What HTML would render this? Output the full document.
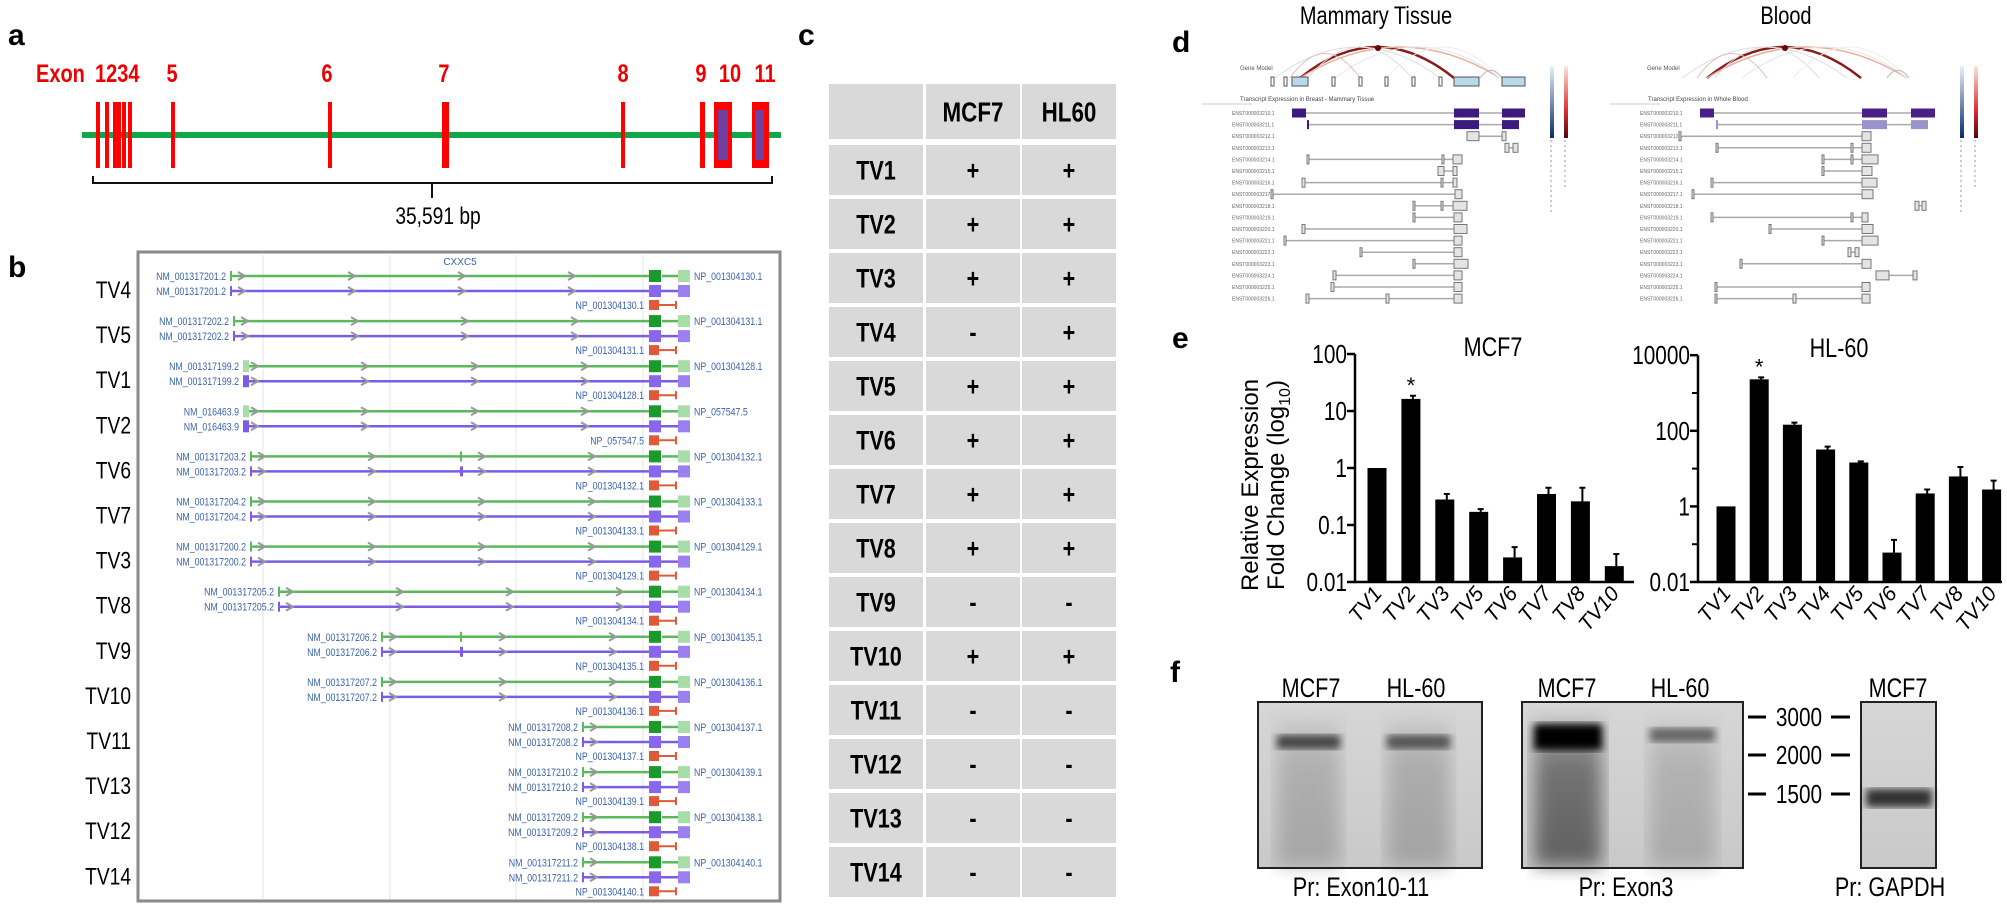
<!DOCTYPE html>
<html><head><meta charset="utf-8">
<style>
html,body{margin:0;padding:0;background:#fff;}
svg{display:block;}
.nar{font-family:"Liberation Sans",sans-serif;}
.sans{font-family:"Liberation Sans",sans-serif;}
</style></head>
<body>
<svg id="fig" width="2007" height="910" viewBox="0 0 2007 910" xmlns="http://www.w3.org/2000/svg">
<defs>
<filter id="blur3"><feGaussianBlur stdDeviation="4"/></filter>
<filter id="blur8"><feGaussianBlur stdDeviation="9"/></filter>
<linearGradient id="blotbg" x1="0" y1="0" x2="0" y2="1"><stop offset="0" stop-color="#d6d6d6"/><stop offset="1" stop-color="#c9c9c9"/></linearGradient>
<linearGradient id="laneg" x1="0" y1="0" x2="0" y2="1"><stop offset="0" stop-color="#bdbdbd"/><stop offset="0.3" stop-color="#9a9a9a"/><stop offset="1" stop-color="#8e8e8e"/></linearGradient>
<linearGradient id="laneg2" x1="0" y1="0" x2="0" y2="1"><stop offset="0" stop-color="#aaa"/><stop offset="0.3" stop-color="#6a6a6a"/><stop offset="1" stop-color="#555"/></linearGradient>
<linearGradient id="blueleg" x1="0" y1="0" x2="0" y2="1"><stop offset="0" stop-color="#e8f0fa"/><stop offset="1" stop-color="#0b2a6e"/></linearGradient>
<linearGradient id="redleg" x1="0" y1="0" x2="0" y2="1"><stop offset="0" stop-color="#fbe6dc"/><stop offset="0.6" stop-color="#d33"/><stop offset="1" stop-color="#5a0010"/></linearGradient>
</defs>

<!-- Panel a -->
<g>
<text x="8" y="45" class="sans" font-size="30" font-weight="bold">a</text>
<text x="36" y="82" class="nar" font-size="25" font-weight="bold" fill="#e00">Exon</text>
<text x="95" y="82" class="nar" font-size="25" font-weight="bold" fill="#e00">1234</text>
<text x="172" y="82" class="nar" font-size="25" font-weight="bold" fill="#e00" text-anchor="middle">5</text>
<text x="327" y="82" class="nar" font-size="25" font-weight="bold" fill="#e00" text-anchor="middle">6</text>
<text x="444" y="82" class="nar" font-size="25" font-weight="bold" fill="#e00" text-anchor="middle">7</text>
<text x="623" y="82" class="nar" font-size="25" font-weight="bold" fill="#e00" text-anchor="middle">8</text>
<text x="701" y="82" class="nar" font-size="25" font-weight="bold" fill="#e00" text-anchor="middle">9</text>
<text x="730" y="82" class="nar" font-size="25" font-weight="bold" fill="#e00" text-anchor="middle">10</text>
<text x="765" y="82" class="nar" font-size="25" font-weight="bold" fill="#e00" text-anchor="middle">11</text>
<rect x="82" y="132" width="699" height="6" fill="#12a84a"/>
<g id="exons"></g>
<path d="M93 176 V183 H772 V176 M432 183 V198" stroke="#111" stroke-width="2" fill="none"/>
<text x="438" y="224" class="nar" font-size="24" text-anchor="middle">35,591 bp</text>
</g>

<!-- Panel b -->
<g>
<text x="8" y="277" class="sans" font-size="30" font-weight="bold">b</text>
<rect x="138" y="252" width="642" height="649" fill="#fff" stroke="#8a8a8a" stroke-width="3"/>
<g id="gridb"></g>
<text x="460" y="265" class="sans" font-size="10" fill="#3a64b0" text-anchor="middle">CXXC5</text>
<g id="tracks"></g>
</g>

<!-- Panel c -->
<g>
<text x="798" y="45" class="sans" font-size="30" font-weight="bold">c</text>
<g id="table"></g>
</g>

<!-- Panel d -->
<g>
<text x="1172" y="52" class="sans" font-size="30" font-weight="bold">d</text>
<text x="1376" y="24" class="nar" font-size="25" text-anchor="middle">Mammary Tissue</text>
<text x="1786" y="24" class="nar" font-size="25" text-anchor="middle">Blood</text>
<g id="gtexM"></g>
<g id="gtexB"></g>
</g>

<!-- Panel e -->
<g>
<text x="1172" y="348" class="sans" font-size="30" font-weight="bold">e</text>
<text transform="translate(1258,485) rotate(-90)" class="sans" font-size="24" text-anchor="middle">Relative Expression</text>
<text transform="translate(1284,485) rotate(-90)" class="sans" font-size="24" text-anchor="middle">Fold Change (log<tspan font-size="16" dy="6">10</tspan><tspan dy="-6">)</tspan></text>
<g id="chartM"></g>
<g id="chartH"></g>
</g>

<!-- Panel f -->
<g>
<text x="1170" y="682" class="sans" font-size="30" font-weight="bold">f</text>
<g id="blots"></g>
</g>
</svg>

<script>
// ---------- data ----------
const exonX = [96, 105, 113, 122, 128, 171, 328, 442, 621, 700];
const exonW = [4, 4, 8, 4, 4, 4, 4, 7, 4, 5];

const tvNames = ["TV4","TV5","TV1","TV2","TV6","TV7","TV3","TV8","TV9","TV10","TV11","TV13","TV12","TV14"];
const nmNames = ["NM_001317201.2","NM_001317202.2","NM_001317199.2","NM_016463.9","NM_001317203.2","NM_001317204.2","NM_001317200.2","NM_001317205.2","NM_001317206.2","NM_001317207.2","NM_001317208.2","NM_001317210.2","NM_001317209.2","NM_001317211.2"];
const npNames = ["NP_001304130.1","NP_001304131.1","NP_001304128.1","NP_057547.5","NP_001304132.1","NP_001304133.1","NP_001304129.1","NP_001304134.1","NP_001304135.1","NP_001304136.1","NP_001304137.1","NP_001304139.1","NP_001304138.1","NP_001304140.1"];
const trackStart = [230, 233, 243, 243, 250, 250, 250, 278, 381, 381, 582, 582, 582, 582];

const tableRows = ["TV1","TV2","TV3","TV4","TV5","TV6","TV7","TV8","TV9","TV10","TV11","TV12","TV13","TV14"];
const mcf7Calls = ["+","+","+","-","+","+","+","+","-","+","-","-","-","-"];
const hl60Calls = ["+","+","+","+","+","+","+","+","-","+","-","-","-","-"];

const mcfCats = ["TV1","TV2","TV3","TV5","TV6","TV7","TV8","TV10"];
const mcfVals = [1, 16.3, 0.28, 0.17, 0.027, 0.35, 0.26, 0.019];
const mcfErr = [1, 18.5, 0.35, 0.19, 0.041, 0.45, 0.45, 0.031];
const mcfTicks = ["0.01","0.1","1","10","100"];

const hlCats = ["TV1","TV2","TV3","TV4","TV5","TV6","TV7","TV8","TV10"];
const hlVals = [1, 2300, 145, 32, 14.5, 0.06, 2.2, 6.2, 2.8];
const hlErr = [1, 2600, 165, 38, 15.5, 0.13, 2.8, 11, 4.8];
const hlTicks = ["0.01","1","100","10000"];

const markerLabels = ["3000","2000","1500"];

// ---------- helpers ----------
const NS = "http://www.w3.org/2000/svg";
function mk(parent, tag, attrs, txt){
  const e = document.createElementNS(NS, tag);
  for (const k in attrs) e.setAttribute(k, attrs[k]);
  if (txt !== undefined) e.textContent = txt;
  parent.appendChild(e);
  return e;
}

// ---------- panel a exons ----------
const gEx = document.getElementById('exons');
exonX.forEach((x,i)=>{
  const r = mk(gEx,'rect',{x:x,y:102,width:exonW[i],height:66,fill:'#f00'});
  
  
});
[[714,732,718,728],[752,769,755,764]].forEach((b,i)=>{
  const r = mk(gEx,'rect',{x:b[0],y:102,width:b[1]-b[0],height:66,fill:'#f00'});
  
  
  const p = mk(gEx,'rect',{x:b[2],y:110,width:b[3]-b[2],height:50,fill:'#7040a0'});
  
  
});

// ---------- panel b ----------
const gGrid = document.getElementById('gridb');
[263,390,516,643].forEach(x=>{
  const l = mk(gGrid,'line',{x1:x,y1:255,x2:x,y2:899,stroke:'#e4e4e4','stroke-width':1});
  
  
});
const gT = document.getElementById('tracks');
function chevrons(g, x0, x1, y){
  for (let x = x0 + 12; x < x1 - 8; x += 110){
    const c = mk(g,'path',{d:`M${x-4} ${y-4} L${x+3} ${y} L${x-4} ${y+4}`,stroke:'#999','stroke-width':2,fill:'none'});
    
    
  }
}
tvNames.forEach((tv,i)=>{
  const ly = 290 + 45.1*i;
  const gy = ly - 14, py = ly + 1, ny = ly + 15;
  const s = trackStart[i];
  const g = mk(gT,'g',{});
  
  
  const t = mk(g,'text',{x:131,y:ly+8,'font-size':24,'text-anchor':'end',class:'nar'},tv);
  
  
  const gl = mk(g,'line',{x1:s,y1:gy,x2:649,y2:gy,stroke:'#5cb85c','stroke-width':2.5});
  
  
  mk(g,'line',{x1:662,y1:gy,x2:678,y2:gy,stroke:'#5cb85c','stroke-width':2.5});
  const wide = (i===2||i===3);
  const gs = mk(g,'rect',{x:s,y:gy-(wide?6:5),width:wide?6:2,height:wide?12:10,fill:wide?'#a8dca8':'#5cb85c'});
  
  
  const gb = mk(g,'rect',{x:649,y:gy-6,width:12,height:12,fill:'#1a9a2a'});
  
  
  const gb2 = mk(g,'rect',{x:678,y:gy-6,width:12,height:12,fill:'#a8dca8'});
  
  
  chevrons(g, s, 649, gy);
  const pl = mk(g,'line',{x1:s,y1:py,x2:678,y2:py,stroke:'#7b5ce6','stroke-width':2.5});
  
  
  const ps = mk(g,'rect',{x:s,y:py-(wide?6:5),width:wide?6:2,height:wide?12:10,fill:'#7b5ce6'});
  
  
  const pb = mk(g,'rect',{x:649,y:py-6,width:12,height:12,fill:'#8866ee'});
  
  
  const pb2 = mk(g,'rect',{x:678,y:py-6,width:12,height:12,fill:'#9a80f0'});
  
  
  chevrons(g, s, 649, py);
  if (i===4||i===8){
    mk(g,'rect',{x:460,y:gy-5,width:2,height:10,fill:'#5cb85c'});
    mk(g,'rect',{x:460,y:py-5,width:3,height:10,fill:'#7b5ce6'});
  }
  const rb = mk(g,'rect',{x:649,y:ny-5,width:10,height:10,fill:'#e05a3a'});
  
  
  mk(g,'line',{x1:659,y1:ny,x2:676,y2:ny,stroke:'#e05a3a','stroke-width':2});
  mk(g,'line',{x1:676,y1:ny-4,x2:676,y2:ny+4,stroke:'#e05a3a','stroke-width':2});
  const nm1 = mk(g,'text',{x:s-4,y:gy+4,'font-size':11,'text-anchor':'end',fill:'#3a64b0',class:'nar'},nmNames[i]);
  
  
  const nm2 = mk(g,'text',{x:s-4,y:py+4,'font-size':11,'text-anchor':'end',fill:'#3a64b0',class:'nar'},nmNames[i]);
  
  
  const np1 = mk(g,'text',{x:694,y:gy+4,'font-size':11,fill:'#3a64b0',class:'nar'},npNames[i]);
  
  
  const np2 = mk(g,'text',{x:644,y:ny+4,'font-size':11,'text-anchor':'end',fill:'#3a64b0',class:'nar'},npNames[i]);
  
  
});

// ---------- panel c table ----------
const gTab = document.getElementById('table');
const colX = [829, 926, 1022], colW = [94, 94, 94];
function cell(x,y,w,h,txt,fs,name){
  const r = mk(gTab,'rect',{x:x,y:y,width:w,height:h,fill:'#d9d9d9'});
  
  
  if (txt){
    const t = mk(gTab,'text',{x:x+w/2,y:y+h/2+fs*0.36,'font-size':fs,'font-weight':'bold','text-anchor':'middle',class:'nar'},txt);
    
    
  }
}
cell(colX[0],84,colW[0],55,'',26,'header-blank');
cell(colX[1],84,colW[1],55,'MCF7',28,'header-mcf7');
cell(colX[2],84,colW[2],55,'HL60',28,'header-hl60');
tableRows.forEach((tv,i)=>{
  const y = 145 + 54*i;
  cell(colX[0],y,colW[0],50,tv,27,'row-label-'+tv.toLowerCase());
  cell(colX[1],y,colW[1],50,mcf7Calls[i],27,'mcf7-'+tv.toLowerCase());
  cell(colX[2],y,colW[2],50,hl60Calls[i],27,'hl60-'+tv.toLowerCase());
});

// ---------- panel d ----------
const mamRows = [
 [[1292,1306],[1454,1479],[1502,1525]],
 [[1307,1309],[1454,1479],[1502,1519]],
 [[1467,1479],[1502,1506]],
 [[1505,1509],[1513,1518]],
 [[1307,1309],[1442,1444],[1453,1462]],
 [[1438,1444],[1453,1457]],
 [[1302,1305],[1441,1443],[1453,1457]],
 [[1271,1273],[1455,1462]],
 [[1413,1415],[1441,1443],[1453,1467]],
 [[1413,1415],[1454,1462]],
 [[1302,1305],[1454,1467]],
 [[1284,1286],[1454,1462]],
 [[1360,1362],[1454,1462]],
 [[1413,1414],[1454,1468]],
 [[1333,1336],[1454,1462]],
 [[1331,1334],[1454,1462]],
 [[1306,1309],[1386,1389],[1454,1462]]
];
const bloodRows = [
 [[1700,1714],[1862,1887],[1911,1935]],
 [[1716,1718],[1862,1887],[1911,1928]],
 [[1679,1681],[1862,1871]],
 [[1716,1718],[1851,1853],[1862,1871]],
 [[1822,1824],[1851,1853],[1862,1878]],
 [[1822,1824],[1862,1872]],
 [[1711,1713],[1862,1877]],
 [[1692,1694],[1862,1873]],
 [[1915,1919],[1922,1926]],
 [[1711,1713],[1851,1853],[1862,1868]],
 [[1769,1771],[1862,1873]],
 [[1822,1824],[1862,1878]],
 [[1848,1851],[1855,1859]],
 [[1740,1742],[1862,1871]],
 [[1876,1889],[1913,1917]],
 [[1715,1717],[1862,1870]],
 [[1715,1717],[1793,1796],[1862,1870]]
];
const mamModel = [[1271,1274],[1284,1287],[1292,1308],[1332,1335],[1359,1362],[1385,1388],[1412,1415],[1439,1442],[1454,1479],[1502,1525]];
function gtex(gid, rows, model, lx, legX, shift, topColors){
  const g = document.getElementById(gid);
  const arcs = [[1300,1454,'#8b1a1a',2.5],[1275,1440,'#ddd',1],[1300,1500,'#e6b0a0',1.5],[1308,1412,'#ddd',1],[1335,1500,'#e4e4e4',1],[1290,1360,'#e0c0b8',1],[1386,1500,'#eee',1],[1480,1502,'#bbb',1]];
  arcs.forEach(a=>{
    const x1=a[0]+shift,x2=a[1]+shift,mx=(x1+x2)/2, h=Math.min(31,(x2-x1)*0.35);
    const p = mk(g,'path',{d:`M${x1} 78 Q${mx} ${78-h*2} ${x2} 78`,stroke:a[2],'stroke-width':a[3],fill:'none'});
    
    
  });
  const dot = mk(g,'circle',{cx:1378+shift,cy:48,r:3,fill:'#6b0000'});
  
  
  const gm = mk(g,'text',{x:1240+shift,y:70,'font-size':6,fill:'#555',class:'sans'},'Gene Model');
  
  
  model.forEach((b,i)=>{
    const big = (b[1]-b[0])>10;
    const r = mk(g,'rect',{x:b[0]+shift,y:77,width:b[1]-b[0],height:9,fill:big?'#b8d8ec':'#fff',stroke:'#555','stroke-width':1});
    
    
  });
  const tt = mk(g,'text',{x:lx+8,y:101,'font-size':6,fill:'#444',class:'sans'},gid==='gtexM'?'Transcript Expression in Breast - Mammary Tissue':'Transcript Expression in Whole Blood');
  
  
  mk(g,'line',{x1:lx-30,y1:104,x2:lx+20,y2:104,stroke:'#ccc','stroke-width':1});
  rows.forEach((row,k)=>{
    const y = 113 + 11.6*k;
    const lab = mk(g,'text',{x:lx,y:y+2,'font-size':5,fill:'#666',class:'sans'},'ENST0000032'+(10+k)+'.1');
    
    
    const x0=row[0][0], x1=row[row.length-1][1];
    const ln = mk(g,'line',{x1:x0,y1:y,x2:x1,y2:y,stroke:'#aaa','stroke-width':1.5});
    
    
    row.forEach(b=>{
      const fill = k<2 ? topColors[k] : '#e4e4e4';
      const r = mk(g,'rect',{x:b[0],y:y-4.5,width:Math.max(2,b[1]-b[0]),height:9,fill:fill,stroke:k<2?'none':'#777','stroke-width':1});
      
      
    });
  });
  const l1 = mk(g,'rect',{x:legX,y:66,width:4,height:72,fill:'url(#blueleg)'});
  
  
  const l2 = mk(g,'rect',{x:legX+14,y:66,width:4,height:72,fill:'url(#redleg)'});
  
  
  mk(g,'line',{x1:legX+1,y1:140,x2:legX+1,y2:215,stroke:'#999','stroke-width':1,'stroke-dasharray':'2 3'});
  mk(g,'line',{x1:legX+15,y1:140,x2:legX+15,y2:190,stroke:'#999','stroke-width':1,'stroke-dasharray':'2 3'});
}
gtex('gtexM', mamRows, mamModel, 1232, 1550, 0, ['#3d1a80','#3d1a80']);
gtex('gtexB', bloodRows, mamModel.map(b=>[b[0]+407,b[1]+407]), 1640, 1960, 407, ['#4a1f8a','#9a92cc']);

// ---------- panel e charts ----------
function logChart(gid, cats, vals, errs, ticks, opt){
  const g = document.getElementById(gid);
  const yOf = v => opt.y0 - (Math.log10(v) - opt.lmin) * opt.dec;
  const xOf = i => opt.x0 + opt.first + i*opt.pitch;
  const ymin = opt.y0, ytop = yOf(Math.pow(10,opt.lmax));
  const ax = mk(g,'path',{d:`M${opt.x0} ${ytop} V${ymin} H${opt.x1}`,stroke:'#000','stroke-width':2.5,fill:'none'});
  
  
  ticks.forEach(t=>{
    const y = yOf(parseFloat(t));
    const tk = mk(g,'line',{x1:opt.x0-8,y1:y,x2:opt.x0,y2:y,stroke:'#000','stroke-width':2.5});
    
    
    const tl = mk(g,'text',{x:opt.x0-8,y:y+9,'font-size':26,'text-anchor':'end',class:'nar'},t);
    
    
  });
  if (opt.minor){
    for (let l=opt.lmin+1;l<opt.lmax;l+=2){
      const y = yOf(Math.pow(10,l));
      const mt = mk(g,'line',{x1:opt.x0-6,y1:y,x2:opt.x0,y2:y,stroke:'#000','stroke-width':2});
      
      
    }
  }
  const title = mk(g,'text',{x:opt.tx,y:ytop+2,'font-size':27,'text-anchor':'middle',class:'nar'},opt.title);
  
  
  cats.forEach((c,i)=>{
    const cx = xOf(i), y = yOf(vals[i]), ye = yOf(errs[i]);
    const b = mk(g,'rect',{x:cx-opt.bw/2,y:y,width:opt.bw,height:ymin-y,fill:'#000'});
    
    
    if (errs[i] > vals[i]){
      const e = mk(g,'path',{d:`M${cx+2} ${y} V${ye} M${cx-1} ${ye} H${cx+5}`,stroke:'#000','stroke-width':2,fill:'none'});
      
      
    }
    const tl = mk(g,'text',{transform:`translate(${cx+6},${ymin+12}) rotate(-50)`,'font-size':21,'text-anchor':'end',class:'sans','font-style':'italic'},c);
    
    
    if (i===1){
      const s = mk(g,'text',{x:cx,y:ye-3,'font-size':22,'text-anchor':'middle',class:'sans'},'*');
      
      
    }
  });
}
logChart('chartM', mcfCats, mcfVals, mcfErr, mcfTicks, {x0:1355,x1:1634,y0:582,lmin:-2,lmax:2,dec:57,first:22,pitch:33.9,bw:19,title:'MCF7',tx:1493});
logChart('chartH', hlCats, hlVals, hlErr, hlTicks, {x0:1698,x1:2002,y0:582,lmin:-2,lmax:4,dec:37.8,first:28,pitch:33.2,bw:19,title:'HL-60',tx:1839,minor:true});

// ---------- panel f blots ----------
const gB = document.getElementById('blots');
function blot(x,y,w,h,name,lanes){
  const g = mk(gB,'g',{});
  
  
  mk(g,'rect',{x:x,y:y,width:w,height:h,fill:'url(#blotbg)'});
  lanes.forEach(l=>{
    const smear = mk(g,'rect',{x:l.x,y:y+20,width:l.w,height:h-22,fill:l.dark?'url(#laneg2)':'url(#laneg)',filter:'url(#blur8)',opacity:l.op});
    
    
    const band = mk(g,'rect',{x:l.x,y:l.by-l.bh/2,width:l.w,height:l.bh,fill:l.bc,filter:'url(#blur3)'});
    
    
  });
  const br = mk(g,'rect',{x:x,y:y,width:w,height:h,fill:'none',stroke:'#222','stroke-width':2});
  
  
}
blot(1258,702,224,166,'blot-exon10-11',[{x:1277,w:63,by:742,bh:14,bc:'#444',op:0.6},{x:1387,w:63,by:742,bh:14,bc:'#555',op:0.65}]);
blot(1522,702,221,166,'blot-exon3',[{x:1534,w:68,by:737,bh:26,bc:'#000',op:0.9,dark:true},{x:1650,w:65,by:735,bh:14,bc:'#666',op:0.55}]);
blot(1861,702,75,166,'blot-gapdh',[{x:1866,w:66,by:798,bh:18,bc:'#333',op:0.0}]);
const fLabels = [[1311,'MCF7'],[1416,'HL-60'],[1567,'MCF7'],[1680,'HL-60'],[1898,'MCF7']];
fLabels.forEach(l=>{
  const t = mk(gB,'text',{x:l[0],y:697,'font-size':27,'text-anchor':'middle',class:'nar'},l[1]);
  
  
});
const probes = [[1361,'Pr: Exon10-11'],[1626,'Pr: Exon3'],[1890,'Pr: GAPDH']];
probes.forEach(p=>{
  const t = mk(gB,'text',{x:p[0],y:896,'font-size':27,'text-anchor':'middle',class:'nar'},p[1]);
  
  
});
const markerY = [717,755,794];
markerLabels.forEach((m,i)=>{
  const y = markerY[i];
  const d1 = mk(gB,'line',{x1:1748,y1:y,x2:1766,y2:y,stroke:'#000','stroke-width':3});
  
  
  const d2 = mk(gB,'line',{x1:1831,y1:y,x2:1850,y2:y,stroke:'#000','stroke-width':3});
  
  
  const t = mk(gB,'text',{x:1799,y:y+9,'font-size':26,'text-anchor':'middle',class:'nar'},m);
  
  
});

// ---------- condense "narrow" text (Arial Narrow look) ----------
document.querySelectorAll('text.nar').forEach(t=>{
  const a = t.getAttribute('text-anchor') || 'start';
  const bb = t.getBBox();
  const ox = a==='middle' ? bb.x+bb.width/2 : (a==='end' ? bb.x+bb.width : bb.x);
  t.setAttribute('transform',`translate(${ox} 0) scale(0.8 1) translate(${-ox} 0)`);
});
</script>
</body></html>
